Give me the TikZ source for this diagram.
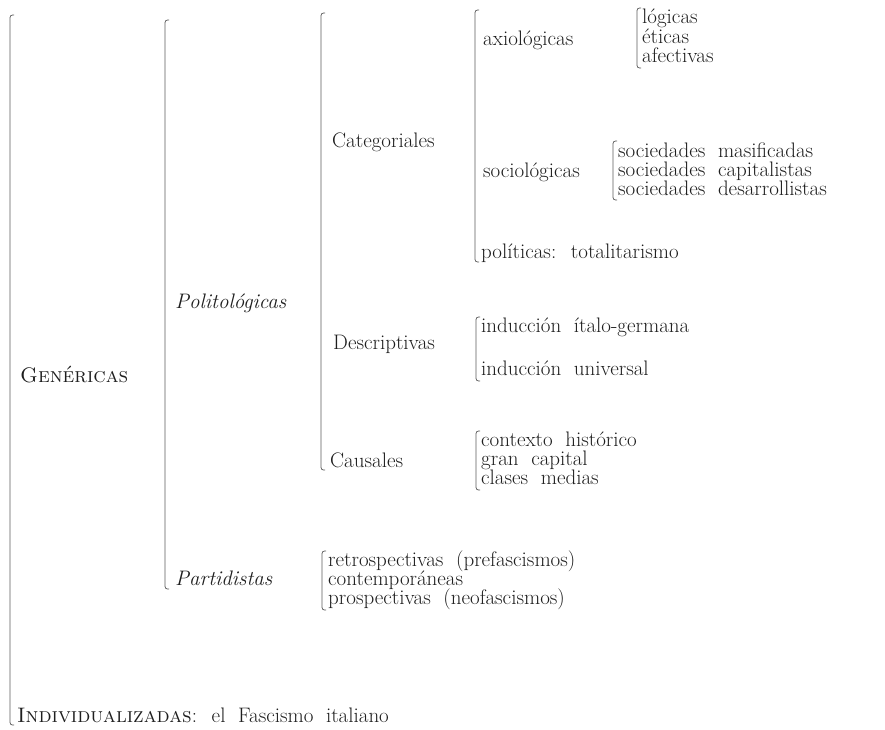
\documentclass[tikz,border=0pt]{standalone}
\usetikzlibrary{calc}
\definecolor{ink}{HTML}{1E1E1E}
\definecolor{barc}{HTML}{5A5A5A}
\protected\def\wordsp{\spaceskip=0.6em\relax}
\tikzset{
  lbl/.style={anchor=base west, inner sep=0pt, text=ink,
    text height=14.5pt, text depth=3.5pt,
    font=\fontsize{21}{19}\selectfont, execute at begin node=\wordsp},
  brk/.style={draw=barc, line width=0.75pt, rounded corners=2.5pt},
}
\newcommand{\brak}[2]{\draw[brk] ($(#1)+(4,0)$) -- (#1) -- (#2) -- ($(#2)+(4,0)$);}
\begin{document}
\begin{tikzpicture}[x=1pt,y=-1pt]
\useasboundingbox (0,0) rectangle (885,729);
% level 1
\node[lbl] (gen) at (20,382) {\textsc{Genéricas}};
\node[lbl] (ind) at (17,722) {\textsc{Individualizadas}: el Fascismo italiano};
\coordinate (b1t) at (10,15); \coordinate (b1b) at (10,725);
\brak{b1t}{b1b}
% level 2
\node[lbl] (pol) at (175,308) {\textit{Politológicas}};
\node[lbl] (par) at (175,585) {\textit{Partidistas}};
\coordinate (b2t) at (165,20); \coordinate (b2b) at (165,589);
\brak{b2t}{b2b}
% level 3
\node[lbl] (cat) at (332,147) {Categoriales};
\node[lbl] (des) at (333,349) {Descriptivas};
\node[lbl] (cau) at (330,467) {Causales};
\coordinate (b3t) at (321,13); \coordinate (b3b) at (321,470);
\brak{b3t}{b3b}
% level 4
\node[lbl] (axi) at (483,45) {axiológicas};
\node[lbl] (soc) at (483,177) {sociológicas};
\node[lbl] (pli) at (481,258) {políticas: totalitarismo};
\coordinate (b4t) at (475,10); \coordinate (b4b) at (475,262);
\brak{b4t}{b4b}
% axiologicas list
\node[lbl] (log) at (642,23) {lógicas};
\node[lbl] (eti) at (642,43) {éticas};
\node[lbl] (afe) at (642,62) {afectivas};
\coordinate (l1t) at (637,8); \coordinate (l1b) at (637,68);
\brak{l1t}{l1b}
% sociologicas list
\node[lbl] (sm) at (618,157) {sociedades masificadas};
\node[lbl] (sc) at (618,176) {sociedades capitalistas};
\node[lbl] (sd) at (618,195) {sociedades desarrollistas};
\coordinate (l2t) at (613,141); \coordinate (l2b) at (613,200);
\brak{l2t}{l2b}
% descriptivas list
\node[lbl] (ig) at (481,332) {inducción ítalo-germana};
\node[lbl] (iu) at (481,375) {inducción universal};
\coordinate (l3t) at (476,317); \coordinate (l3b) at (476,381);
\brak{l3t}{l3b}
% causales list
\node[lbl] (ch) at (481,446) {contexto histórico};
\node[lbl] (gc) at (481,465) {gran capital};
\node[lbl] (cm) at (481,484) {clases medias};
\coordinate (l4t) at (476,431); \coordinate (l4b) at (476,490);
\brak{l4t}{l4b}
% partidistas list
\node[lbl] (re) at (328,566) {retrospectivas (prefascismos)};
\node[lbl] (co) at (328,585) {contemporáneas};
\node[lbl] (pr) at (328,604) {prospectivas (neofascismos)};
\coordinate (l5t) at (322,551); \coordinate (l5b) at (322,610);
\brak{l5t}{l5b}
\end{tikzpicture}
\end{document}
